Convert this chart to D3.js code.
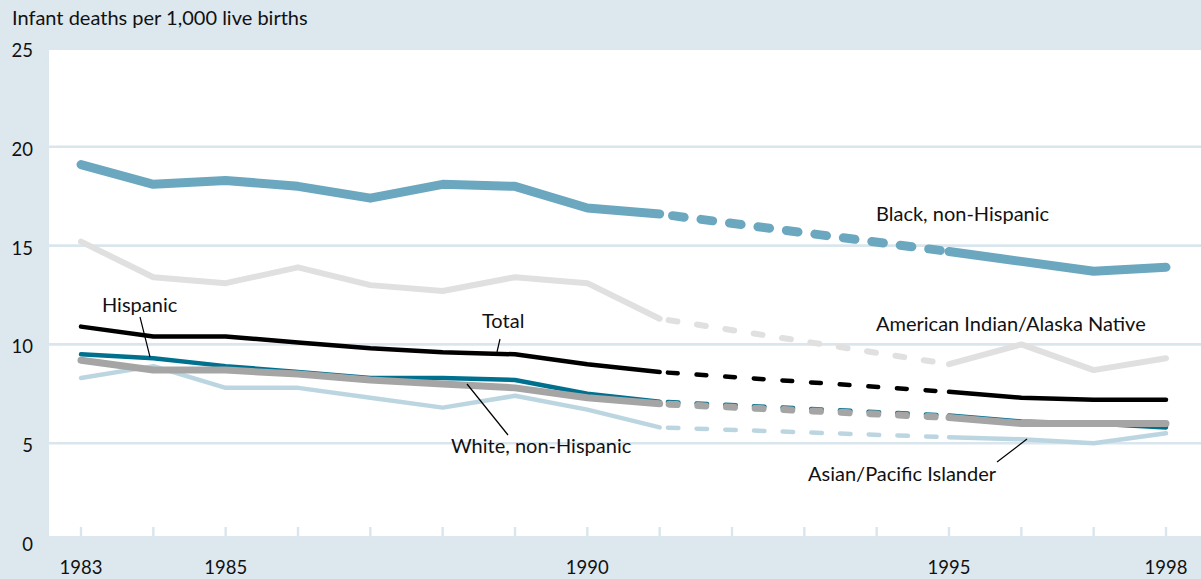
<!DOCTYPE html>
<html>
<head>
<meta charset="utf-8">
<script src="https://cdn.jsdelivr.net/npm/d3@7"></script>
<style>
  html, body { margin: 0; padding: 0; background: #dde8ee; }
  svg { display: block; }
  text { font-family: Lato, "Open Sans", sans-serif; fill: #111; }
</style>
</head>
<body>
<svg id="chart" width="1201" height="579"></svg>
<script>
// ---- data ----
const years = [1983,1984,1985,1986,1987,1988,1989,1990,1991,1992,1993,1994,1995,1996,1997,1998];
const blackNH  = [19.1,18.1,18.3,18.0,17.4,18.1,18.0,16.9,16.6,null,null,null,14.7,14.2,13.7,13.9];
const aian     = [15.2,13.4,13.1,13.9,13.0,12.7,13.4,13.1,11.3,null,null,null,9.0,10.0,8.7,9.3];
const asianPI  = [8.3,8.9,7.8,7.8,7.3,6.8,7.4,6.7,5.8,null,null,null,5.3,5.2,5.0,5.5];
const hispanic = [9.5,9.3,8.9,8.6,8.3,8.3,8.2,7.5,7.1,null,null,null,6.4,6.1,6.0,5.8];
const whiteNH  = [9.2,8.7,8.7,8.5,8.2,8.0,7.8,7.3,7.0,null,null,null,6.3,6.0,6.0,6.0];
const total    = [10.9,10.4,10.4,10.1,9.8,9.6,9.5,9.0,8.6,null,null,null,7.6,7.3,7.2,7.2];
const yTicks = [0,5,10,15,20,25];
const xLabels = [1983,1985,1990,1995,1998];
const yTitle = "Infant deaths per 1,000 live births";

// ---- layout ----
const svg = d3.select("#chart");
const W = 1201, H = 579;
const plot = {left: 49, top: 50, right: 1201, bottom: 536};
const x = d3.scaleLinear().domain([1983, 1998]).range([81, 1166]);
const y = d3.scaleLinear().domain([0, 25]).range([542, 48]);
const gridColor = "#d9e6ed";

svg.append("rect").attr("width", W).attr("height", H).attr("fill", "#dde8ee");
svg.append("rect").attr("x", plot.left).attr("y", plot.top)
  .attr("width", plot.right - plot.left).attr("height", plot.bottom - plot.top)
  .attr("fill", "#fff");

// grid lines
svg.append("g").selectAll("line").data(yTicks.filter(d => d > 0 && d < 25)).join("line")
  .attr("x1", plot.left).attr("x2", plot.right)
  .attr("y1", d => y(d)).attr("y2", d => y(d))
  .attr("stroke", gridColor).attr("stroke-width", 2.6);

// x ticks (each year)
svg.append("g").selectAll("line").data(years).join("line")
  .attr("x1", d => x(d)).attr("x2", d => x(d))
  .attr("y1", plot.bottom - 9).attr("y2", plot.bottom)
  .attr("stroke", gridColor).attr("stroke-width", 2.4);

// y labels
svg.append("g").selectAll("text").data(yTicks).join("text")
  .attr("x", 33).attr("y", d => y(d) + 9)
  .attr("text-anchor", "end").attr("font-size", 18.5).text(d => d);

// x labels
svg.append("g").selectAll("text").data(xLabels).join("text")
  .attr("x", d => x(d)).attr("y", 574)
  .attr("text-anchor", "middle").attr("font-size", 18.5).text(d => d);

// y title
svg.append("text").attr("x", 12).attr("y", 25).attr("font-size", 20).text(yTitle);

// ---- series ----
const line = d3.line().defined(d => d.v != null).x(d => x(d.year)).y(d => y(d.v));
function draw(values, color, width, visDash, gapStart) {
  const pts = years.map((yr, i) => ({year: yr, v: values[i]}));
  const g = svg.append("g");
  // solid parts
  g.append("path").datum(pts).attr("d", line)
    .attr("fill", "none").attr("stroke", color).attr("stroke-width", width)
    .attr("stroke-linecap", "round").attr("stroke-linejoin", "round");
  // dashed bridge over missing years
  const defined = pts.filter(d => d.v != null);
  const a = defined.find((d, i) => defined[i + 1] && defined[i + 1].year - d.year > 1);
  const b = defined[defined.indexOf(a) + 1];
  const period = 28.7;
  const dash = visDash - width;
  const s = gapStart + width / 2;
  g.append("path").datum([a, b]).attr("d", line)
    .attr("fill", "none").attr("stroke", color).attr("stroke-width", width)
    .attr("stroke-linecap", "round")
    .attr("stroke-dasharray", `${dash} ${period - dash}`)
    .attr("stroke-dashoffset", period - s);
}

draw(aian, "#e0e0e0", 6, 15, 6);
draw(blackNH, "#6ba7bf", 9, 20.7, 8.5);
draw(asianPI, "#bcd6e1", 4.5, 15, 6);
draw(hispanic, "#00708f", 4.5, 15, 6);
draw(whiteNH, "#a5a5a5", 7, 15, 6);
draw(total, "#000000", 4.5, 14.3, 6);

// ---- annotations ----
const ann = [
  {t: "Black, non-Hispanic", x: 876, y: 221},
  {t: "American Indian/Alaska Native", x: 876, y: 331},
  {t: "Total", x: 482, y: 328},
  {t: "Hispanic", x: 102, y: 312},
  {t: "White, non-Hispanic", x: 451, y: 453},
  {t: "Asian/Pacific Islander", x: 808, y: 481}
];
svg.append("g").selectAll("text").data(ann).join("text")
  .attr("x", d => d.x).attr("y", d => d.y).attr("font-size", 20).text(d => d.t);

const leaders = [
  [[500, 339], [497, 352]],
  [[140, 317], [150, 357]],
  [[508, 435], [467, 384]],
  [[997, 462], [1027, 439]]
];
svg.append("g").selectAll("line").data(leaders).join("line")
  .attr("x1", d => d[0][0]).attr("y1", d => d[0][1])
  .attr("x2", d => d[1][0]).attr("y2", d => d[1][1])
  .attr("stroke", "#000").attr("stroke-width", 1.2);
</script>
</body>
</html>
